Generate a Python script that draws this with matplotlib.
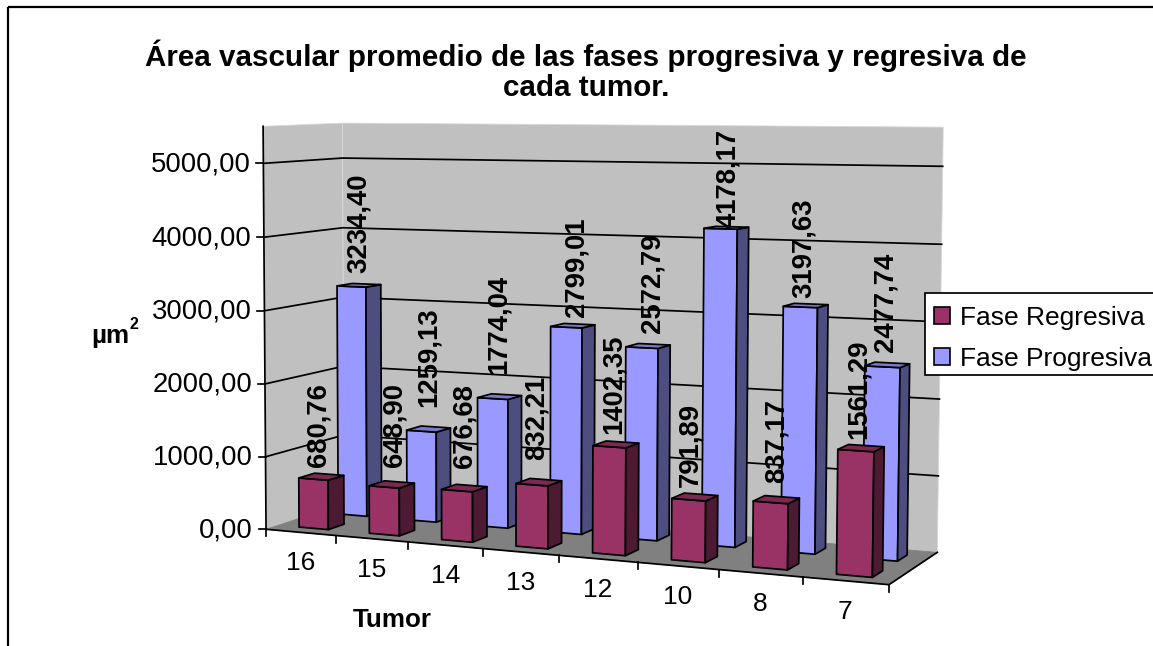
import numpy as np
import matplotlib
matplotlib.use('Agg')
import matplotlib.pyplot as plt
from matplotlib.patches import Patch, Polygon, Rectangle

plt.rcParams['font.family'] = ['Liberation Sans', 'DejaVu Sans']

TITLE = "Área vascular promedio de las fases progresiva y regresiva de\ncada tumor."
tumors = ['16', '15', '14', '13', '12', '10', '8', '7']
regresiva = [680.76, 648.90, 676.68, 832.21, 1402.35, 791.89, 837.17, 1561.29]
progresiva = [3234.40, 1259.13, 1774.04, 2799.01, 2572.79, 4178.17, 3197.63, 2477.74]
y_ticks = [0, 1000, 2000, 3000, 4000, 5000]
y_max = 5500

# data labels sit unevenly above the bars, nudges in pixels
reg_lift = [10, 17, 20, 22, 10, 10, 16, 9]
prog_lift = [12, 22, 22, 9, 13, 0, 7, 13]
reg_shift = [-1, 5, 2, 0, 0, -2, 3, 0]
prog_shift = [2, 2, 1, 6, 7, 4, 1, 1]

# (category, depth, value) -> pixel, fitted to the corners of the box in the picture
anchors_3d = [(0, 0, 0), (8, 0, 0), (0, 1, 0), (8, 1, 0), (0, 0, 5500), (0, 1, 5500),
              (8, 1, 5500), (2, 0, 0), (4, 0, 0), (6, 0, 0), (8, 1, 1000), (0, 0, 1000),
              (0, 1, 4000), (0, 1, 5000), (8, 1, 5000)]
anchors_px = [(267, 529), (889, 585), (343, 504), (938, 552), (262, 126), (343, 124),
              (944, 127), (409, 543), (558, 555), (719, 570), (938, 475), (266, 456),
              (343, 228), (343, 157), (942, 167)]


def fit_projection(pts3d, pts2d):
    rows, rhs = [], []
    for (a, b, c), (x, y) in zip(pts3d, pts2d):
        c = c / 1000
        rows.append([a, b, c, 1, 0, 0, 0, 0, -x * a, -x * b, -x * c])
        rhs.append(x)
        rows.append([0, 0, 0, 0, a, b, c, 1, -y * a, -y * b, -y * c])
        rhs.append(y)
    sol = np.linalg.lstsq(np.array(rows, float), np.array(rhs, float), rcond=None)[0]
    return np.append(sol, 1).reshape(3, 4)


P = fit_projection(anchors_3d, anchors_px)


def proj(u, d, v):
    x, y, w = P @ np.array([u, d, v / 1000, 1.0])
    return x / w, y / w


fig = plt.figure(figsize=(11.53, 6.46), dpi=100)
ax = fig.add_axes([0, 0, 1, 1])
ax.set_xlim(0, 1153)
ax.set_ylim(646, 0)
ax.axis('off')

n = len(tumors)
WALL = '#C0C0C0'
FLOOR = '#808080'
LW = 1.25


def face(corners, color, z=2, lw=LW, edge='black'):
    ax.add_patch(Polygon([proj(*c) for c in corners], closed=True, facecolor=color,
                         edgecolor=edge, linewidth=lw, joinstyle='round', zorder=z))


def bar(i, d0, d1, val, front, top, side, z):
    u0, u1 = i + 0.30, i + 0.72
    face([(u0, d0, 0), (u1, d0, 0), (u1, d0, val), (u0, d0, val)], front, z)
    face([(u1, d0, 0), (u1, d1, 0), (u1, d1, val), (u1, d0, val)], side, z)
    face([(u0, d0, val), (u1, d0, val), (u1, d1, val), (u0, d1, val)], top, z)


# walls and floor
face([(0, 0, 0), (0, 1, 0), (0, 1, y_max), (0, 0, y_max)], WALL, 1, 0.6, '#D8D8D8')
face([(0, 1, 0), (n, 1, 0), (n, 1, y_max), (0, 1, y_max)], WALL, 1, 0.6, '#D8D8D8')
face([(0, 0, 0), (n, 0, 0), (n, 1, 0), (0, 1, 0)], FLOOR, 1.5, 0.6, FLOOR)

for v in y_ticks[1:]:
    xy = [proj(0, 0, v), proj(0, 1, v), proj(n, 1, v)]
    ax.plot(*zip(*xy), color='black', lw=LW, zorder=1.2)

# axis lines and ticks
ax.plot(*zip(proj(0, 0, 0), proj(0, 0, y_max)), color='black', lw=LW, zorder=1.6)
ax.plot(*zip(proj(0, 0, 0), proj(n, 0, 0), proj(n, 1, 0)), color='black', lw=LW, zorder=1.6)
for v in y_ticks:
    x, y = proj(0, 0, v)
    ax.plot([x - 7, x], [y, y], color='black', lw=LW, zorder=1.6)
    ax.text(x - 13, y + 1, f"{v:.2f}".replace('.', ','), ha='right', va='center', fontsize=19.8)
for i in range(n + 1):
    x, y = proj(i, 0, 0)
    ax.plot([x, x], [y, y + 7], color='black', lw=LW, zorder=1.6)
for i, t in enumerate(tumors):
    x, y = proj(i + 0.5, 0, 0)
    ax.text(x, y + 31, t, ha='center', va='center', fontsize=19)

# bars, back series first
for i in range(n):
    bar(i, 0.65, 0.85, progresiva[i], '#9999FF', '#7A7ACC', '#4D4D80', 3)
for i in range(n):
    bar(i, 0.15, 0.35, regresiva[i], '#993366', '#7A2952', '#4D1A33', 4)

for i in range(n):
    for val, d, lift, shift in ((regresiva[i], 0.25, reg_lift[i], reg_shift[i]),
                                (progresiva[i], 0.75, prog_lift[i], prog_shift[i])):
        x, y = proj(i + 0.48, d, val)
        ax.text(x + shift, y - lift, f"{val:.2f}".replace('.', ','), rotation=90, ha='center',
                va='bottom', fontsize=19.8, fontweight='bold', zorder=6)

ax.text(586, 71, TITLE, ha='center', va='center', fontsize=21.3, fontweight='bold',
        linespacing=1.07, zorder=6)
ax.text(392.5, 620, 'Tumor', ha='center', va='center', fontsize=18.7, fontweight='bold')
ax.text(91, 343, 'µm', ha='left', va='baseline', fontsize=18.7, fontweight='bold')
ax.text(130, 329, '2', ha='left', va='baseline', fontsize=11.5, fontweight='bold')

# chart border runs off the right and bottom of the picture
ax.add_patch(Rectangle((8, 7), 1170, 680, fill=False, edgecolor='black', lw=1.6, zorder=0.5))

# legend frame runs off the right edge as well
ax.add_patch(Rectangle((925, 293), 260, 82, facecolor='white', edgecolor='black', lw=1.25, zorder=7))
handles = [Patch(facecolor='#993366', edgecolor='black', linewidth=1.2, label='Fase Regresiva'),
           Patch(facecolor='#9999FF', edgecolor='black', linewidth=1.2, label='Fase Progresiva')]
leg = ax.legend(handles=handles, loc='upper left', bbox_to_anchor=(934, 306),
                bbox_transform=ax.transData, fontsize=19, frameon=False, borderaxespad=0,
                handlelength=0.62, handleheight=0.62, handletextpad=0.38, borderpad=0,
                labelspacing=0.65)
leg.set_zorder(8)

fig.savefig('out.png', dpi=100)
